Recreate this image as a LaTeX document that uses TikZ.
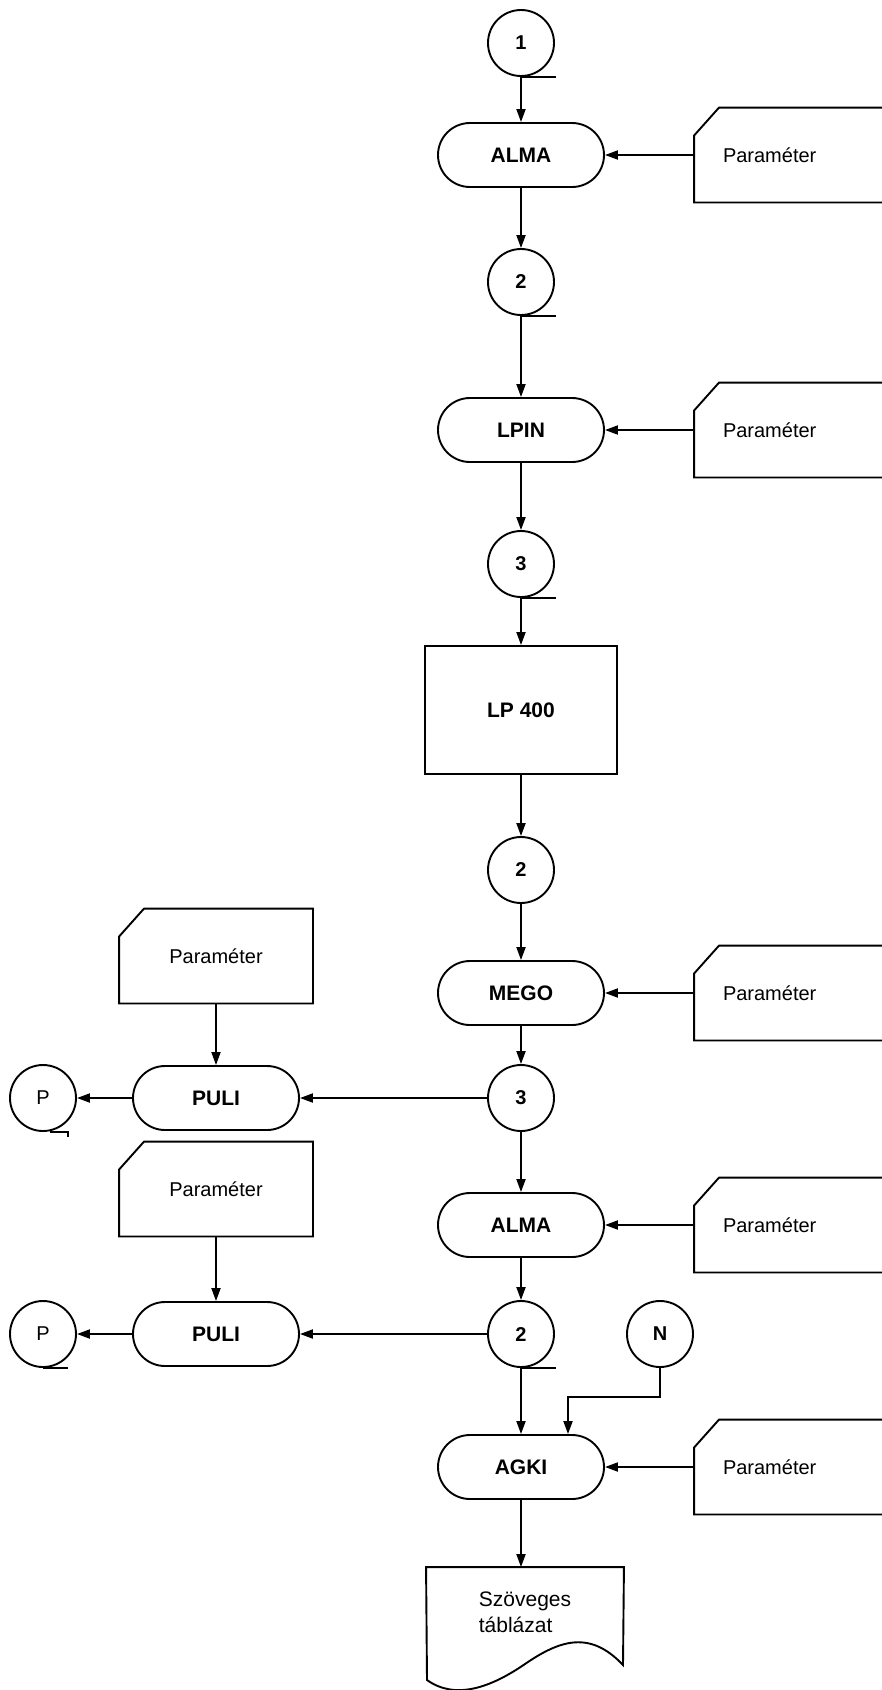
\documentclass[tikz,border=0pt]{standalone}
\usepackage{fontspec}
\setmainfont{Liberation Sans}
\usetikzlibrary{arrows.meta,shapes.misc}

\tikzset{
  tape/.style={circle, draw, minimum size=66pt, inner sep=0pt, font=\fontsize{20}{24}\selectfont\bfseries},
  proc/.style={rounded rectangle, draw, minimum width=166pt, minimum height=64pt, inner sep=0pt, font=\fontsize{21}{24}\selectfont\bfseries},
  parcard/.style={minimum height=93pt, inner xsep=28pt, inner ysep=0pt, text width=154pt, align=left, font=\fontsize{20}{24}\selectfont},
  parleft/.style={parcard, text width=136pt, align=center},
  arr/.style={-{Triangle[length=13pt,width=9pt]}},
}

\begin{document}
\begin{tikzpicture}[x=1pt, y=-1pt, line width=1.9pt]
	\useasboundingbox (0,0) rectangle (882,1690);
	% main column
	\node[tape] (t1) at (521,43) {1};
	\node[proc] (alma1) at (521,155) {ALMA};
	\node[tape] (t2) at (521,282) {2};
	\node[proc] (lpin) at (521,430) {LPIN};
	\node[tape] (t3) at (521,564) {3};
	\node[draw, minimum width=192pt, minimum height=128pt, font=\fontsize{21}{24}\selectfont\bfseries] (lp) at (521,710) {LP 400};
	\node[tape] (t4) at (521,870) {2};
	\node[proc] (mego) at (521,993) {MEGO};
	\node[tape] (t5) at (521,1098) {3};
	\node[proc] (alma2) at (521,1225) {ALMA};
	\node[tape] (t6) at (521,1334) {2};
	\node[tape] (nn) at (660,1334) {N};
	\node[proc] (agki) at (521,1467) {AGKI};
	\node[minimum width=196pt, minimum height=88pt, inner sep=0pt, align=left, font=\fontsize{21}{26}\selectfont] (doc) at (525,1612) {Szöveges\\táblázat};
	% parameter cards
	\node[parcard] (pa) at (800,155) {Paraméter};
	\node[parcard] (pb) at (800,430) {Paraméter};
	\node[parcard] (pc) at (800,993) {Paraméter};
	\node[parcard] (pe) at (800,1225) {Paraméter};
	\node[parcard] (pg) at (800,1467) {Paraméter};
	\node[parleft] (pd) at (216,956) {Paraméter};
	\node[parleft] (pf) at (216,1189) {Paraméter};
	\foreach \c in {pa,pb,pc,pd,pe,pf,pg}
		{\draw ([yshift=-28pt]\c.north west) -- ([xshift=25pt]\c.north west) -- (\c.north east) -- (\c.south east) -- (\c.south west) -- cycle;}
	% side branch
	\node[proc] (puli1) at (216,1098) {PULI};
	\node[tape, font=\fontsize{20}{24}\selectfont] (pl1) at (43,1098) {P};
	\node[proc] (puli2) at (216,1334) {PULI};
	\node[tape, font=\fontsize{20}{24}\selectfont] (pl2) at (43,1334) {P};
	% tape tails
	\foreach \t in {t1,t2,t3,t6} {\draw (\t.south) -- ++(35,0);}
	\draw (pl1.south) ++(7,0) -- ++(18,0) -- ++(0,5);
	\draw (pl2.south) -- ++(25,0);
	% output sheet
	\draw (doc.north west) -- (doc.north east) -- (623,1665) .. controls (590,1630) and (560,1640) .. (525,1664) .. controls (490,1688) and (455,1700) .. (427,1680) -- cycle;
	% flow
	\draw[arr] (t1) -- (alma1);
	\draw[arr] (alma1) -- (t2);
	\draw[arr] (t2) -- (lpin);
	\draw[arr] (lpin) -- (t3);
	\draw[arr] (t3) -- (lp);
	\draw[arr] (lp) -- (t4);
	\draw[arr] (t4) -- (mego);
	\draw[arr] (mego) -- (t5);
	\draw[arr] (t5) -- (alma2);
	\draw[arr] (alma2) -- (t6);
	\draw[arr] (t6) -- (agki);
	\draw[arr] (agki.south) -- (agki.south |- doc.north);
	\foreach \c/\p in {pa/alma1, pb/lpin, pc/mego, pe/alma2, pg/agki}
		{\draw[arr] (\c.west |- \p.east) -- (\p.east);}
	\draw[arr] (t5.west) -- (puli1.east);
	\draw[arr] (puli1.west) -- (pl1.east);
	\draw[arr] (pd.south) -- (puli1.north);
	\draw[arr] (t6.west) -- (puli2.east);
	\draw[arr] (puli2.west) -- (pl2.east);
	\draw[arr] (pf.south) -- (puli2.north);
	\coordinate (nk) at (568,1397);
	\draw[arr] (nn.south) |- (nk) -- (nk |- agki.north);
\end{tikzpicture}
\end{document}
